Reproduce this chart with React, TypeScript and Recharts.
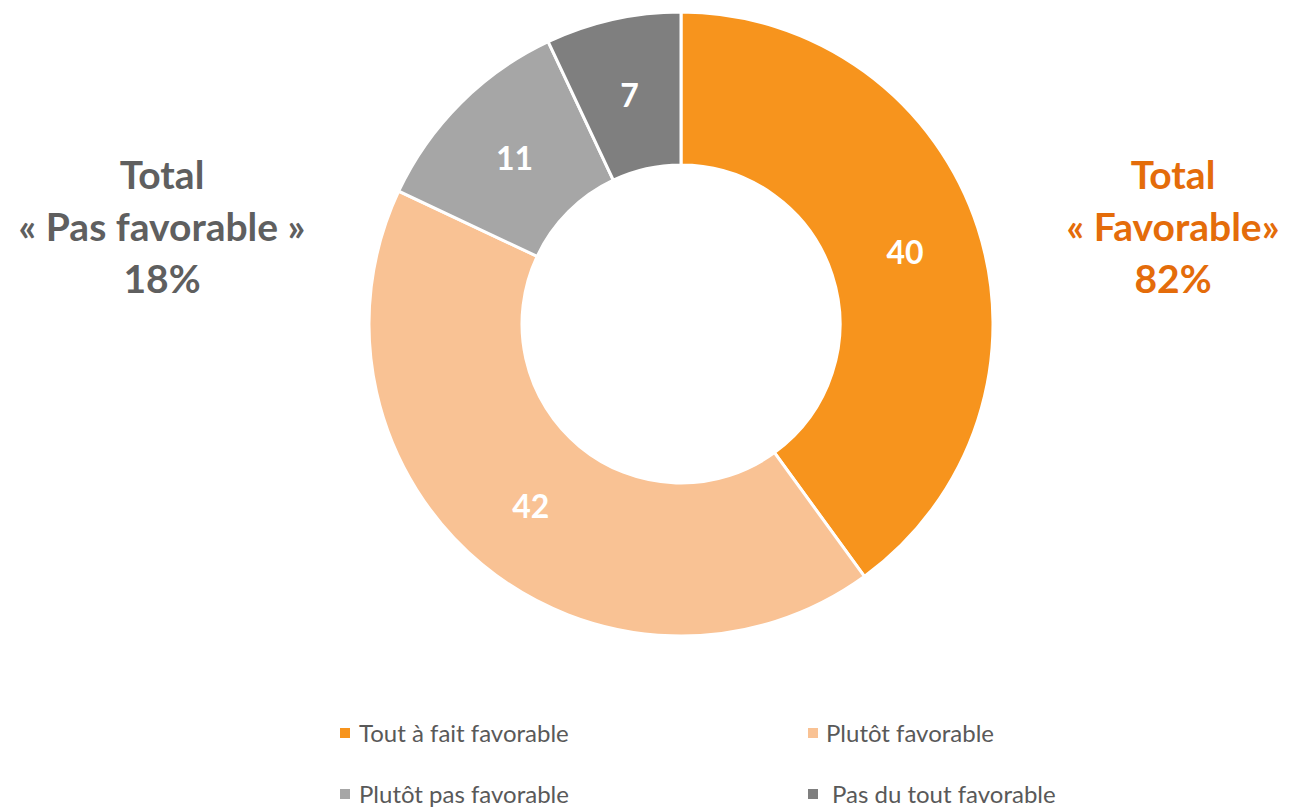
import React from "react";
import { Cell, Legend, Pie, PieChart } from "recharts";

const categories = [
  "Tout à fait favorable",
  "Plutôt favorable",
  "Plutôt pas favorable",
  "Pas du tout favorable",
];
const values = [40, 42, 11, 7];
const colors = ["#F7941D", "#F9C294", "#A6A6A6", "#7F7F7F"];

const leftTotal = ["Total", "« Pas favorable »", "18%"];
const rightTotal = ["Total", "« Favorable»", "82%"];

const data = categories.map((name, i) => ({ name, value: values[i] }));

const font = "Lato, 'Open Sans', sans-serif";
const RAD = Math.PI / 180;

function renderLabel(props: any) {
  const { cx, cy, midAngle, innerRadius, outerRadius, value } = props;
  const r = (innerRadius + outerRadius) / 2;
  const x = cx + r * Math.cos(-midAngle * RAD);
  const y = cy + r * Math.sin(-midAngle * RAD);
  return (
    <text
      x={x}
      y={y}
      fill="#fff"
      fontSize={32}
      fontWeight={700}
      fontFamily={font}
      textAnchor="middle"
      dominantBaseline="central"
    >
      {value}
    </text>
  );
}

function LegendContent() {
  const pos = [
    { left: 340, top: 0, gap: 9 },
    { left: 808, top: 0, gap: 8 },
    { left: 340, top: 61, gap: 9 },
    { left: 808, top: 61, gap: 14 },
  ];
  return (
    <div style={{ position: "relative", width: 1289, height: 90 }}>
      {categories.map((c, i) => (
        <div
          key={c}
          style={{
            position: "absolute",
            left: pos[i].left,
            top: pos[i].top,
            display: "flex",
            alignItems: "center",
            fontFamily: font,
            fontSize: 24,
            color: "#595959",
            whiteSpace: "nowrap",
          }}
        >
          <span
            style={{
              display: "inline-block",
              width: 10,
              height: 10,
              background: colors[i],
              marginRight: pos[i].gap,
            }}
          />
          {c}
        </div>
      ))}
    </div>
  );
}

function SideText({ lines, color, center }: { lines: string[]; color: string; center: number }) {
  return (
    <div
      style={{
        position: "absolute",
        left: center - 200,
        top: 148,
        width: 400,
        textAlign: "center",
        fontFamily: font,
        fontWeight: 700,
        fontSize: 39,
        lineHeight: "52px",
        color,
      }}
    >
      {lines.map((l) => (
        <div key={l}>{l}</div>
      ))}
    </div>
  );
}

export default function App() {
  return (
    <div style={{ position: "absolute", left: 0, top: 0, width: 1289, height: 807, background: "#fff" }}>
      <PieChart width={1289} height={807} margin={{ top: 0, right: 0, bottom: 0, left: 0 }}>
        <Pie
          data={data}
          dataKey="value"
          nameKey="name"
          cx={681}
          cy={324}
          innerRadius={159}
          outerRadius={312}
          startAngle={90}
          endAngle={-270}
          stroke="#fff"
          strokeWidth={3}
          label={renderLabel}
          labelLine={false}
          isAnimationActive={false}
        >
          {data.map((d, i) => (
            <Cell key={d.name} fill={colors[i]} />
          ))}
        </Pie>
        <Legend
          content={<LegendContent />}
          wrapperStyle={{ position: "absolute", left: 0, top: 718, width: 1289 }}
        />
      </PieChart>
      <SideText lines={leftTotal} color="#5F5F5F" center={162} />
      <SideText lines={rightTotal} color="#E46C0A" center={1173} />
    </div>
  );
}
